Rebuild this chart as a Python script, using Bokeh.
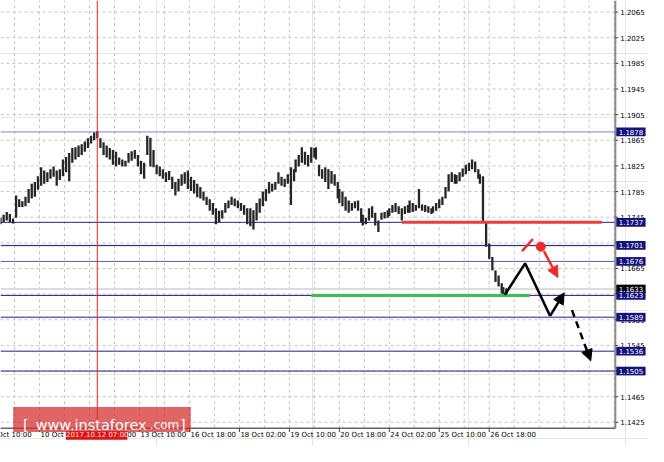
from bokeh.plotting import figure
from bokeh.models import Range1d, Arrow, NormalHead
from bokeh.core.properties import value
from bokeh.embed import file_html
from bokeh.resources import INLINE

# ---------------- data ----------------
bar_index = [0, 2, 4, 6, 8, 10, 12, 14, 16, 18, 20, 22, 24, 26, 28, 30, 32, 34, 36, 38,
             40, 42, 44, 46, 48, 50, 52, 54, 56, 58, 60, 62, 64, 66, 68, 70, 72, 74, 76, 78,
             80, 82, 84, 86, 88, 90, 92, 94, 96, 98, 100, 102, 104, 106, 108, 110, 112, 114, 116, 118,
             120, 122, 124, 126, 128, 130, 132, 134, 136, 138, 140, 142, 144, 146, 148, 150, 152, 154, 156, 158,
             160,
             162, 164, 166, 168, 170, 172, 174, 176, 178, 180, 182, 184, 186, 188, 189, 191, 193, 195, 197, 199,
             201, 202, 204, 206, 208, 210, 212, 214, 216, 217, 219, 221, 223, 225, 227, 229, 231, 232, 234, 236,
             238, 240, 242,
             244, 246, 248, 249, 251, 253, 255, 257, 259, 261, 262, 264, 266, 268, 270, 272, 274, 276, 277, 279,
             281, 283, 285, 287, 289, 291, 292, 294, 296, 298, 300, 302, 304, 306, 307, 309, 311, 313, 315, 317,
             319, 321, 322, 324]

bar_high = [1.1744, 1.1749, 1.1753, 1.1750, 1.1743, 1.1779, 1.1773, 1.1770, 1.1777, 1.1789,
            1.1797, 1.1800, 1.1809, 1.1823, 1.1818, 1.1815, 1.1820, 1.1824, 1.1818, 1.1820,
            1.1835, 1.1839, 1.1845, 1.1853, 1.1854, 1.1857, 1.1859, 1.1863, 1.1868, 1.1872,
            1.1877, 1.1879, 1.1868, 1.1862, 1.1857, 1.1853, 1.1850, 1.1847, 1.1838, 1.1835,
            1.1833,
            1.1845, 1.1848, 1.1850, 1.1842, 1.1833, 1.1830, 1.1872, 1.1869, 1.1850, 1.1827,
            1.1824, 1.1820, 1.1815, 1.1817, 1.1808, 1.1800, 1.1805, 1.1812, 1.1815, 1.1818,
            1.1808, 1.1803, 1.1797, 1.1792, 1.1785, 1.1777, 1.1773, 1.1767, 1.1759, 1.1755,
            1.1756, 1.1767, 1.1771, 1.1777, 1.1774, 1.1771, 1.1767, 1.1764, 1.1759, 1.1759,
            1.1756, 1.1767, 1.1774, 1.1785, 1.1789, 1.1800, 1.1797, 1.1800, 1.1815, 1.1808,
            1.1805, 1.1812, 1.1823, 1.1820, 1.1835, 1.1842, 1.1854, 1.1847, 1.1842, 1.1854,
            1.1853, 1.1854, 1.1827, 1.1820, 1.1823, 1.1820, 1.1817, 1.1812, 1.1800, 1.1789,
            1.1785, 1.1777, 1.1771, 1.1767, 1.1770, 1.1771, 1.1759, 1.1749, 1.1744, 1.1759,
            1.1762, 1.1752, 1.1740,
            1.1752, 1.1753, 1.1756, 1.1759, 1.1764, 1.1767, 1.1762, 1.1759, 1.1762, 1.1764,
            1.1771, 1.1767, 1.1764, 1.1789, 1.1765, 1.1764, 1.1762, 1.1759, 1.1762, 1.1767,
            1.1773, 1.1777, 1.1792, 1.1812, 1.1815, 1.1812, 1.1811, 1.1815, 1.1821, 1.1827,
            1.1830, 1.1835, 1.1832, 1.1820, 1.1812, 1.1809, 1.1737, 1.1704, 1.1683, 1.1662,
            1.1654, 1.1642, 1.1636, 1.1634]

bar_low = [1.1734, 1.1737, 1.1740, 1.1737, 1.1735, 1.1744, 1.1761, 1.1761, 1.1762, 1.1767,
           1.1774, 1.1777, 1.1788, 1.1794, 1.1797, 1.1800, 1.1805, 1.1808, 1.1794, 1.1803,
           1.1809, 1.1815, 1.1801, 1.1830, 1.1835, 1.1839, 1.1842, 1.1847, 1.1853, 1.1860,
           1.1865, 1.1868, 1.1853, 1.1842, 1.1838, 1.1835, 1.1827, 1.1824, 1.1827, 1.1824,
           1.1824,
           1.1830, 1.1833, 1.1836, 1.1824, 1.1812, 1.1805, 1.1842, 1.1824, 1.1823, 1.1812,
           1.1809, 1.1805, 1.1800, 1.1803, 1.1789, 1.1779, 1.1785, 1.1794, 1.1797, 1.1789,
           1.1786, 1.1782, 1.1776, 1.1774, 1.1771, 1.1764, 1.1755, 1.1749, 1.1734, 1.1737,
           1.1743, 1.1752, 1.1759, 1.1764, 1.1762, 1.1759, 1.1755, 1.1749, 1.1734, 1.1731,
           1.1726, 1.1740, 1.1752, 1.1762, 1.1770, 1.1782, 1.1785, 1.1788, 1.1797, 1.1794,
           1.1792, 1.1797, 1.1764, 1.1801, 1.1815, 1.1824, 1.1830, 1.1827, 1.1824, 1.1830,
           1.1838, 1.1835, 1.1809, 1.1805, 1.1800, 1.1789, 1.1797, 1.1794, 1.1774, 1.1767,
           1.1762, 1.1755, 1.1752, 1.1755, 1.1759, 1.1755, 1.1737, 1.1732, 1.1734, 1.1740,
           1.1744, 1.1732, 1.1722,
           1.1741, 1.1743, 1.1744, 1.1747, 1.1752, 1.1753, 1.1750, 1.1740, 1.1750, 1.1752,
           1.1752, 1.1753, 1.1755, 1.1759, 1.1755, 1.1753, 1.1752, 1.1750, 1.1752, 1.1755,
           1.1759, 1.1764, 1.1774, 1.1785, 1.1800, 1.1797, 1.1797, 1.1801, 1.1808, 1.1812,
           1.1817, 1.1820, 1.1815, 1.1805, 1.1797, 1.1737, 1.1699, 1.1680, 1.1662, 1.1644,
           1.1637, 1.1626, 1.1623, 1.1622]

tick_bars = [-7, 25, 57, 89, 121, 153, 185, 217, 249, 281, 313]
tick_labels = ["9 Oct 10:00", "10 Oct 18:00", "12 Oct 02:00", "13 Oct 10:00", "16 Oct 18:00",
               "18 Oct 02:00", "19 Oct 10:00", "20 Oct 18:00", "24 Oct 02:00", "25 Oct 10:00",
               "26 Oct 18:00"]
grid_bars = [9, 25, 41, 57, 73, 89, 105, 121, 137, 153, 169, 185, 201, 217, 233, 249,
             265, 281, 297, 313, 329, 345, 361, 377, 393]
price_ticks = [1.1425, 1.1465, 1.1505, 1.1545, 1.1585, 1.1625, 1.1665, 1.1705, 1.1745,
               1.1785, 1.1825, 1.1865, 1.1905, 1.1945, 1.1985, 1.2025, 1.2065]

levels = [1.1878, 1.1737, 1.1701, 1.1676, 1.1623, 1.1589, 1.1536, 1.1505]
level_colors = ["#8282cc", "#24249a", "#1e1e90", "#5c5cb4", "#1e1e90", "#1e1e90", "#1e1e90", "#1e1e90"]
current_price = 1.1633

cursor_bar = 62
cursor_text = "2017.10.12 07:00"

resistance_bars = [257, 385]
resistance_price = [1.1737, 1.1737]
support_bars = [199, 339]
support_price = [1.1623, 1.1623]

forecast_bars = [323, 336, 352]
forecast_prices = [1.1624, 1.1673, 1.1591]
rebound_bars = [352, 361]
rebound_prices = [1.1591, 1.1627]
breakdown_bars = [366, 378]
breakdown_prices = [1.1600, 1.1521]
alt_slash_bars = [334, 341]
alt_slash_prices = [1.1692, 1.1711]
alt_dot_bar = [346]
alt_dot_price = [1.1699]
alt_arrow_bars = [348, 357]
alt_arrow_prices = [1.1692, 1.1651]

# ---------------- layout geometry (reference px -> data) ----------------
PX_PER_BAR = 1.6
PX_PER_PRICE = 6640.0
REF_PRICE, REF_Y = 1.2065, 12.0


def bx(px):
    return px / PX_PER_BAR


def py(ypx):
    return REF_PRICE - (ypx - REF_Y) / PX_PER_PRICE


X0, X1 = bx(0), bx(664)
Y0, Y1 = py(462), py(0)
CHART_RIGHT = bx(630)
CHART_BOTTOM = py(443)
FONT = value("DejaVu Sans")

p = figure(width=648, height=446, x_range=Range1d(X0, X1), y_range=Range1d(Y0, Y1),
           x_axis_location=None, y_axis_location=None,
           output_backend="svg", toolbar_location=None,
           min_border_left=0, min_border_top=0, min_border_right=0, min_border_bottom=0,
           background_fill_color="white", border_fill_color="white", outline_line_color=None)

# grid
p.segment(x0=grid_bars, y0=[CHART_BOTTOM] * len(grid_bars), x1=grid_bars, y1=[Y1] * len(grid_bars),
          line_color="#c4c4c4", line_dash="3 3", line_width=1)
p.segment(x0=[X0] * len(price_ticks), y0=price_ticks, x1=[CHART_RIGHT] * len(price_ticks), y1=price_ticks,
          line_color="#c4c4c4", line_dash="3 3", line_width=1)

# current price (bid) line and level lines
p.segment(x0=[X0], y0=[current_price], x1=[CHART_RIGHT], y1=[current_price],
          line_color="#dcdcdc", line_width=2)
p.segment(x0=[X0] * len(levels), y0=levels, x1=[CHART_RIGHT] * len(levels), y1=levels,
          line_color=level_colors, line_width=1)

# price bars
p.segment(x0=bar_index, y0=bar_low, x1=bar_index, y1=bar_high, line_color="#262626", line_width=2.3)

# cursor
p.segment(x0=[cursor_bar], y0=[CHART_BOTTOM], x1=[cursor_bar], y1=[Y1], line_color="#ff2020", line_width=1)

# analysis lines
p.line(resistance_bars, resistance_price, line_color="#ee3b3b", line_width=3)
p.line(support_bars, support_price, line_color="#3fbf52", line_width=3)

p.line(forecast_bars, forecast_prices, line_color="black", line_width=2.5)
p.add_layout(Arrow(end=NormalHead(size=11, fill_color="black", line_color="black"),
                   x_start=rebound_bars[0], y_start=rebound_prices[0],
                   x_end=rebound_bars[1], y_end=rebound_prices[1],
                   line_color="black", line_width=2.5))
p.add_layout(Arrow(end=NormalHead(size=11, fill_color="black", line_color="black"),
                   x_start=breakdown_bars[0], y_start=breakdown_prices[0],
                   x_end=breakdown_bars[1], y_end=breakdown_prices[1],
                   line_color="black", line_width=2.5, line_dash="7 5"))

RED = "#ee2b2b"
p.line(alt_slash_bars, alt_slash_prices, line_color=RED, line_width=2.5)
p.scatter(alt_dot_bar, alt_dot_price, size=9, color=RED)
p.add_layout(Arrow(end=NormalHead(size=11, fill_color=RED, line_color=RED),
                   x_start=alt_arrow_bars[0], y_start=alt_arrow_prices[0],
                   x_end=alt_arrow_bars[1], y_end=alt_arrow_prices[1],
                   line_color=RED, line_width=2.5))

# ---------------- price scale (right) ----------------
AXIS_COLOR = "#8a8a8a"
p.segment(x0=[CHART_RIGHT], y0=[CHART_BOTTOM], x1=[CHART_RIGHT], y1=[Y1], line_color=AXIS_COLOR, line_width=2)
p.segment(x0=[CHART_RIGHT] * len(price_ticks), y0=price_ticks,
          x1=[bx(633)] * len(price_ticks), y1=price_ticks, line_color="#444444", line_width=1)
p.text(x=[bx(635)] * len(price_ticks), y=price_ticks, text=[f"{t:.4f}" for t in price_ticks],
       text_font=FONT, text_font_size="7px", text_color="black",
       text_align="left", text_baseline="middle")

# level boxes
box_prices = [current_price] + levels
box_colors = ["black"] + ["#12127a"] * len(levels)
half_h = 4.5 / PX_PER_PRICE
p.quad(left=[bx(631)] * len(box_prices), right=[bx(661)] * len(box_prices),
       top=[b + half_h for b in box_prices], bottom=[b - half_h for b in box_prices],
       fill_color=box_colors, line_color=None)
p.text(x=[bx(633.5)] * len(box_prices), y=box_prices, text=[f"{b:.4f}" for b in box_prices],
       text_font=FONT, text_font_size="7px", text_color="white",
       text_align="left", text_baseline="middle")

# ---------------- time scale (bottom) ----------------
p.segment(x0=[X0], y0=[CHART_BOTTOM], x1=[CHART_RIGHT], y1=[CHART_BOTTOM], line_color="#666666", line_width=1.5)
p.segment(x0=tick_bars, y0=[CHART_BOTTOM] * len(tick_bars), x1=tick_bars, y1=[py(447)] * len(tick_bars),
          line_color="#444444", line_width=1)
p.text(x=tick_bars, y=[py(446)] * len(tick_bars), text=tick_labels, x_offset=1,
       text_font=FONT, text_font_size="7px", text_color="black",
       text_align="left", text_baseline="top")

# cursor time box
p.quad(left=[bx(67)], right=[bx(130)], top=[py(446)], bottom=[py(455)], fill_color="#e01212", line_color=None)
p.text(x=[cursor_bar], y=[py(450.5)], text=[cursor_text], text_font=FONT, text_font_size="7px",
       text_color="#f8e4e4", text_align="center", text_baseline="middle")

# watermark
p.quad(left=[bx(13)], right=[bx(195)], top=[py(421)], bottom=[py(447)],
       fill_color="#d42a2a", fill_alpha=0.72, line_color=None)
p.text(x=[bx(23), bx(36), bx(184)], y=[py(440)] * 3, text=["[", "www.instaforex", "]"],
       text_font=FONT, text_font_size="14.5px", text_color="white",
       text_align="left", text_baseline="alphabetic")
p.text(x=[bx(153)], y=[py(440)], text=[".com"],
       text_font=FONT, text_font_size="12px", text_color="white",
       text_align="left", text_baseline="alphabetic")

open("out.html", "w").write(file_html(p, INLINE))
